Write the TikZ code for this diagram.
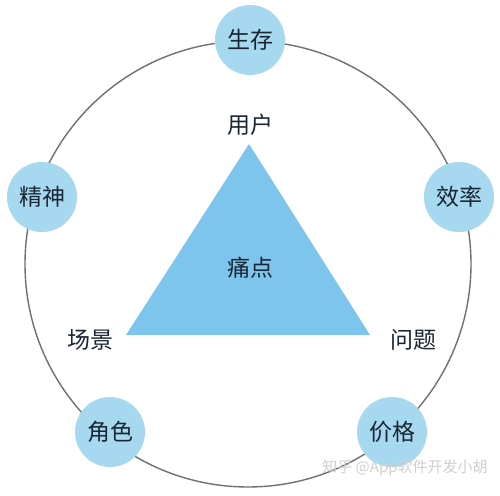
\documentclass[tikz,border=0pt]{standalone}
\usepackage{fontspec}
\newfontfamily\cjk{Noto Sans CJK SC}
\definecolor{nodeblue}{HTML}{A6D8EF}
\definecolor{triblue}{HTML}{7DC5EC}
\definecolor{txt}{HTML}{1A2633}
\definecolor{ring}{HTML}{707070}
\definecolor{wm}{HTML}{CFCFCF}
\begin{document}
\begin{tikzpicture}[x=1pt,y=1pt,
  bubble/.style={circle,fill=nodeblue,minimum size=70pt,inner sep=0pt,font=\cjk\fontsize{23}{23}\selectfont,text=txt},
  lbl/.style={font=\cjk\fontsize{23}{23}\selectfont,text=txt,inner sep=0pt}]
\useasboundingbox (0,0) rectangle (500,495);
\fill[white] (0,0) rectangle (500,495);
\coordinate (O) at (248,231);
\draw[ring,line width=1.4pt] (O) circle (223);
\coordinate (A) at (249,351);
\coordinate (B) at (126,160);
\coordinate (C) at (370,160);
\fill[triblue] (A) -- (B) -- (C) -- cycle;
\node[bubble] (s1) at (250,455) {生存};
\node[bubble] (s2) at (42,298) {精神};
\node[bubble] (s3) at (459,298) {效率};
\node[bubble] (s4) at (110,63) {角色};
\node[bubble] (s5) at (392,63) {价格};
\node[lbl] (u) at (250,370) {用户};
\node[lbl] (p) at (250,227) {痛点};
\node[lbl] (c) at (90,155) {场景};
\node[lbl] (q) at (413,155) {问题};
\node[font=\cjk\fontsize{15}{15}\selectfont,text=wm,inner sep=0pt] (w) at (405,27) {知乎 @App软件开发小胡};
\end{tikzpicture}
\end{document}
